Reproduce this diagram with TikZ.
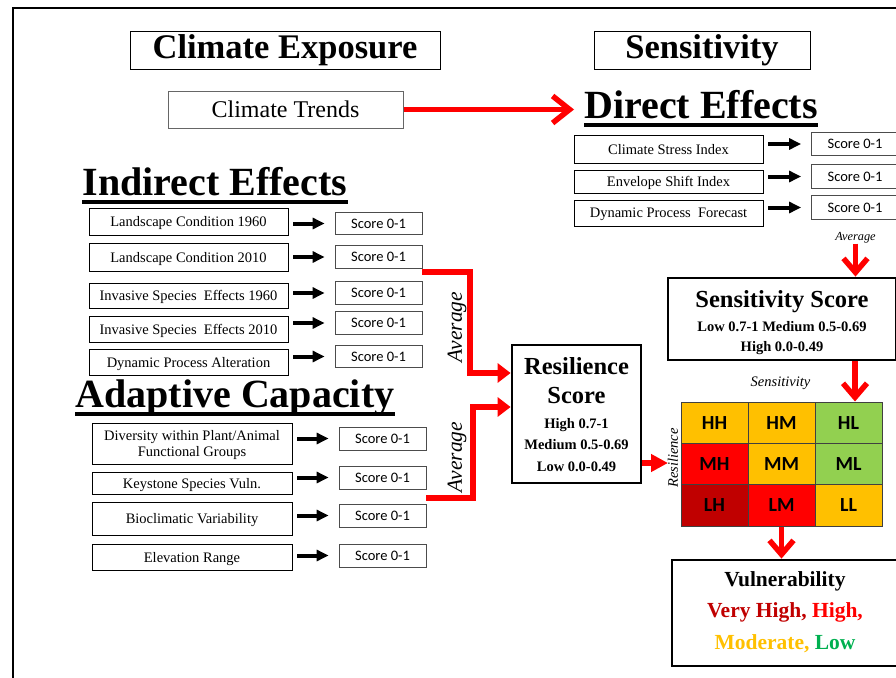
\documentclass[tikz,border=0pt]{standalone}
\usepackage{fontspec}
\setmainfont{Liberation Serif}
\newfontfamily\calibri{Carlito}
\usetikzlibrary{arrows.meta, calc}
\definecolor{cgold}{HTML}{FFC000}
\definecolor{cgreen}{HTML}{92D050}
\definecolor{cred}{HTML}{FF0000}
\definecolor{cdred}{HTML}{C00000}
\definecolor{clow}{HTML}{00B050}
\newcommand{\setfs}[2]{\fontsize{#1}{#2}\selectfont}
\tikzset{
    header/.style={draw, line width=1pt, inner sep=0pt, minimum height=38pt,
        font={\bfseries\setfs{34.5pt}{40pt}}},
    heading/.style={anchor=base, inner sep=0pt, font={\bfseries\setfs{40pt}{46pt}}},
    factor/.style={draw, line width=0.8pt, inner sep=0pt, text depth=0pt,
        font={\setfs{14.5pt}{16.5pt}}},
    score/.style={draw=black!70, line width=0.8pt, inner sep=0pt, minimum width=87pt,
        text depth=0pt, font={\calibri\setfs{14.5pt}{17pt}}},
    bigbox/.style={draw, line width=2.8pt, inner sep=0pt},
    boxtext/.style={anchor=base, inner sep=0pt, font={\bfseries\setfs{14.5pt}{17pt}}},
    avg/.style={inner sep=0pt, rotate=90, font={\itshape\setfs{21.5pt}{24pt}}},
    cell/.style={draw=black!75, line width=1pt, minimum width=67pt, minimum height=41.33pt,
        inner sep=0pt, font={\calibri\bfseries\setfs{20pt}{24pt}}},
    toscore/.style={line width=4pt, shorten <=5pt, shorten >=10pt,
        -{Triangle[length=12pt, width=11pt]}},
    redline/.style={cred, line width=6pt, -{Triangle[length=13pt, width=19pt]}},
    redbarb/.style={cred, line width=5.5pt, -{Straight Barb[length=14pt, width=24pt]}},
}
\begin{document}
\begin{tikzpicture}[x=1pt, y=-1pt]
    \useasboundingbox (0,0) rectangle (896,677);
    \clip (0,0) rectangle (896,677);
    \draw[line width=2.3pt] (12.8,690) -- (12.8,8) -- (910,8);

    % exposure and sensitivity headers
    \node[header, minimum width=310pt] (ce) at (285,50.5) {Climate Exposure};
    \node[header, minimum width=216pt] (sen) at (702,50.5) {Sensitivity};
    \node[draw=black!60, line width=1pt, minimum width=235pt, minimum height=37pt,
        font={\setfs{24pt}{28pt}}] (ct) at (285.5,109.5) {Climate Trends};

    \node[heading] (de) at (701,118) {Direct Effects};
    \node[heading] (ie) at (215,195) {Indirect Effects};
    \node[heading] (ac) at (235,407) {Adaptive Capacity};
    \foreach \h in {de, ie, ac}
        \draw[line width=4pt] ([yshift=-6.5pt]\h.base west) -- ([yshift=-6.5pt]\h.base east);

    \draw[redbarb, -{Straight Barb[length=17pt, width=27pt]}]
        (ct.east) -- ($(ct.east -| de.west)+(-10,0)$);

    % direct effects
    \foreach \n/\t/\fy/\fh/\sy in {csi/Climate Stress Index/149/28/144,
        esi/Envelope Shift Index/181.5/23/176.5,
        dpf/Dynamic Process\ \ Forecast/213/26/207.5} {
        \node[factor, minimum width=189pt, minimum height=\fh pt] (\n) at (668.5,\fy) {\t};
        \node[score, minimum height=23.5pt] (\n-s) at (855,\sy) {Score 0-1};
        \draw[toscore] (\n-s.west -| \n.east) -- (\n-s.west);
    }
    \node[inner sep=0pt, font={\itshape\setfs{12.3pt}{14pt}}] (avgd) at (855.5,238) {Average};

    % indirect effects
    \foreach \n/\t/\fy/\fh/\sy in {lc60/Landscape Condition 1960/221.5/27/223.5,
        lc10/Landscape Condition 2010/257/28/257,
        is60/Invasive Species\ \ Effects 1960/295.5/25/293,
        is10/Invasive Species\ \ Effects 2010/329/26/323,
        dpa/Dynamic Process Alteration/362/26/356.5} {
        \node[factor, minimum width=199pt, minimum height=\fh pt] (\n) at (188.5,\fy) {\t};
        \node[score, minimum height=22.5pt] (\n-s) at (378.5,\sy) {Score 0-1};
        \draw[toscore] (\n-s.west -| \n.east) -- (\n-s.west);
    }

    % adaptive capacity
    \foreach \n/\t/\fy/\fh/\sy in {div/{Diversity within Plant/Animal\\Functional Groups}/443.5/41/438.5,
        ksv/Keystone Species Vuln./483/22/477.5,
        bcv/Bioclimatic Variability/518.5/33/515.5,
        elr/Elevation Range/557/26/555.5} {
        \node[factor, align=center, minimum width=200pt, minimum height=\fh pt] (\n) at (192,\fy) {\t};
        \node[score, minimum height=23pt] (\n-s) at (382.5,\sy) {Score 0-1};
        \draw[toscore] (\n-s.west -| \n.east) -- (\n-s.west);
    }

    % resilience score
    \node[bigbox, minimum width=129pt, minimum height=138pt] (res) at (576.5,414) {};
    \node[boxtext, font={\bfseries\setfs{24.5pt}{28pt}}] (res-a) at (576.5,374) {Resilience};
    \node[boxtext, font={\bfseries\setfs{24.5pt}{28pt}}] (res-b) at (576.5,403) {Score};
    \node[boxtext] (res-c) at (576.5,428) {High 0.7-1};
    \node[boxtext] (res-d) at (576.5,449) {Medium 0.5-0.69};
    \node[boxtext] (res-e) at (576.5,471) {Low 0.0-0.49};

    \node[avg] (avg1) at (457,327) {Average};
    \node[avg] (avg2) at (457,457) {Average};
    \draw[redline] (lc10-s.south east |- 0,272) -| (470,373) -- (res.west |- 0,373);
    \draw[redline] (bcv-s.north east |- 0,498) -| (473,407) -- (res.west |- 0,407);

    % sensitivity score
    \node[bigbox, minimum width=228pt, minimum height=82pt] (ss) at (782,319) {};
    \node[boxtext, font={\bfseries\setfs{24.5pt}{28pt}}] (ss-a) at (782,307) {Sensitivity Score};
    \node[boxtext] (ss-b) at (782,331) {Low 0.7-1 Medium 0.5-0.69};
    \node[boxtext] (ss-c) at (782,351) {High 0.0-0.49};
    \draw[redbarb] (avgd.south) -- (ss.north -| avgd.south);

    % resilience x sensitivity grid
    \node[anchor=base, inner sep=0pt, font={\itshape\setfs{14.5pt}{17pt}}] (glab) at (780.5,386) {Sensitivity};
    \node[inner sep=0pt, rotate=90, font={\itshape\setfs{14.5pt}{17pt}}] (rlab) at (673,458) {Resilience};
    \foreach \lab/\col/\i/\j in {HH/cgold/0/0, HM/cgold/1/0, HL/cgreen/2/0,
        MH/cred/0/1, MM/cgold/1/1, ML/cgreen/2/1,
        LH/cdred/0/2, LM/cred/1/2, LL/cgold/2/2}
        \node[cell, fill=\col] (\lab) at (714.5+67*\i, 422.67+41.33*\j) {\lab};
    \draw[redbarb] (ss.south -| 855,0) -- (HL.north -| 855,0);
    \coordinate (gin) at (668,463);
    \draw[redline, -{Triangle[length=17pt, width=17pt]}] (res.east |- gin) -- (gin);

    % vulnerability
    \node[bigbox, minimum width=226pt, minimum height=106pt] (vul) at (785,613) {};
    \node[boxtext, font={\bfseries\setfs{21.5pt}{25pt}}] (vul-a) at (785,586) {Vulnerability};
    \node[boxtext, font={\bfseries\setfs{21.5pt}{25pt}}] (vul-b) at (785,617)
        {\textcolor{cdred}{Very High,} \textcolor{cred}{High,}};
    \node[boxtext, font={\bfseries\setfs{21.5pt}{25pt}}] (vul-c) at (785,649)
        {\textcolor{cgold}{Moderate,} \textcolor{clow}{Low}};
    \draw[redbarb] (LM.south) -- (vul.north -| LM.south);
\end{tikzpicture}
\end{document}
